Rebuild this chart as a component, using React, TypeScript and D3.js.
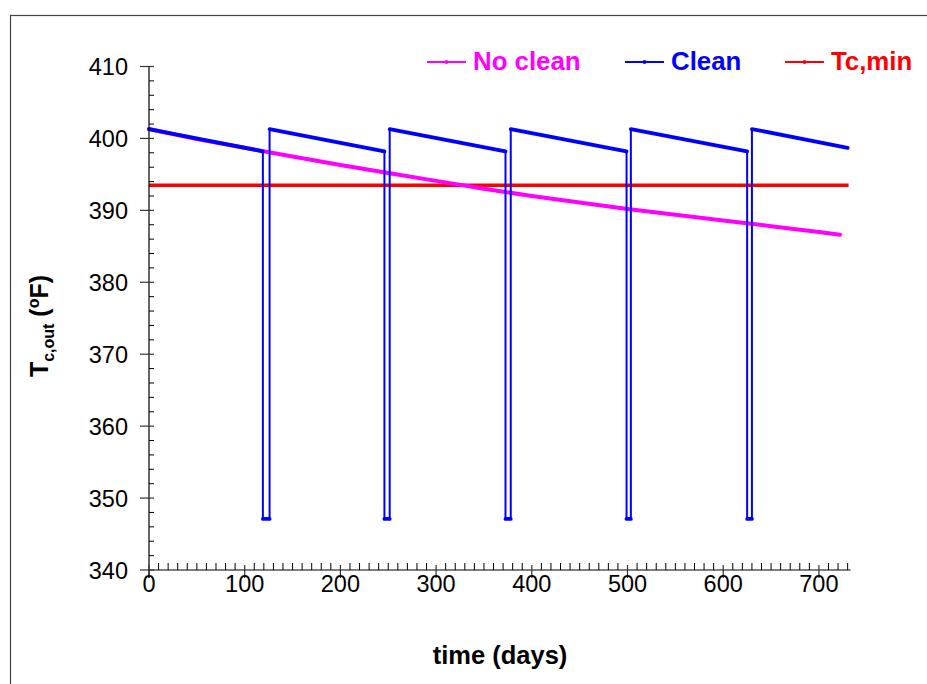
import React from "react";
import * as d3 from "d3";

const noCleanDays = [0, 50, 100, 150, 200, 250, 300, 350, 400, 450, 500, 550, 600, 650, 700, 722];
const noCleanTemps = [401.3, 399.9, 398.7, 397.5, 396.3, 395.2, 394.1, 393.0, 392.0, 391.1, 390.2, 389.4, 388.6, 387.8, 387.0, 386.6];

const cleanDays = [0, 119, 119, 126, 126, 246, 246, 251.5, 251.5, 372.5, 372.5, 378, 378, 499, 499, 503.5, 503.5, 625, 625, 630, 630, 730];
const cleanTemps = [401.3, 398.2, 347.1, 347.1, 401.3, 398.2, 347.1, 347.1, 401.3, 398.2, 347.1, 347.1, 401.3, 398.2, 347.1, 347.1, 401.3, 398.2, 347.1, 347.1, 401.3, 398.7];

const tcMinDays = [0, 731];
const tcMinTemps = [393.5, 393.5];

const xTicks = [0, 100, 200, 300, 400, 500, 600, 700];
const yTicks = [340, 350, 360, 370, 380, 390, 400, 410];

const legendLabels = ["No clean", "Clean", "Tc,min"];
const legendColors = ["#FF00FF", "#0000FF", "#FF0000"];

const FONT = "'Liberation Sans', Arial, sans-serif";

export default function App() {
  const x = d3.scaleLinear().domain([0, 733]).range([149, 850.5]);
  const y = d3.scaleLinear().domain([340, 410]).range([570, 66.5]);

  const line = d3.line<[number, number]>().x((d) => x(d[0])).y((d) => y(d[1]));
  const noClean = noCleanDays.map((d, i) => [d, noCleanTemps[i]] as [number, number]);
  const clean = cleanDays.map((d, i) => [d, cleanTemps[i]] as [number, number]);
  const tcMin = tcMinDays.map((d, i) => [d, tcMinTemps[i]] as [number, number]);

  const cleanSegs = clean.slice(1).map((p, i) => [clean[i], p] as [number, number][]);

  const xMinor = d3.range(0, 731, 10).filter((v) => v % 100 !== 0);
  const yMinor = d3.range(340, 410.01, 2).filter((v) => Math.round(v) % 10 !== 0);

  const legendX = [427, 625, 785];

  return (
    <svg width={927} height={684} style={{ position: "absolute", left: 0, top: 0, background: "#fff" }} fontFamily={FONT}>
      <rect x={10.5} y={15.5} width={930} height={700} fill="none" stroke="#444" strokeWidth={1.2} />

      {/* series */}
      <path d={line(tcMin) || ""} fill="none" stroke="#FF0000" strokeWidth={3.5} />
      <path d={line(noClean) || ""} fill="none" stroke="#FF00FF" strokeWidth={4} strokeLinecap="round" strokeLinejoin="round" />
      {cleanSegs.map((s, i) => {
        const vertical = s[0][0] === s[1][0];
        return (
          <path
            key={i}
            d={line(s) || ""}
            fill="none"
            stroke="#0000FF"
            strokeWidth={vertical ? 2 : 3.8}
            strokeLinecap={vertical ? "butt" : "round"}
          />
        );
      })}

      {/* axes */}
      <line x1={x(0)} x2={x(733)} y1={y(340)} y2={y(340)} stroke="#000" strokeWidth={1.2} />
      <line x1={x(0)} x2={x(0)} y1={y(410)} y2={y(340) + 8} stroke="#000" strokeWidth={1.2} />
      {xMinor.map((v) => (
        <line key={"xm" + v} x1={x(v)} x2={x(v)} y1={y(340)} y2={y(340) - 7} stroke="#000" strokeWidth={1} />
      ))}
      {xTicks.map((v) => (
        <g key={"xt" + v}>
          <line x1={x(v)} x2={x(v)} y1={y(340) - 5} y2={y(340) + 8} stroke="#333" strokeWidth={1.2} />
          <text x={x(v)} y={592} textAnchor="middle" fontSize={23.5} fill="#000">
            {v}
          </text>
        </g>
      ))}
      {yMinor.map((v) => (
        <line key={"ym" + v} x1={x(0)} x2={x(0) + 5} y1={y(v)} y2={y(v)} stroke="#000" strokeWidth={1} />
      ))}
      {yTicks.map((v) => (
        <g key={"yt" + v}>
          <line x1={x(0) - 9} x2={x(0) + 5} y1={y(v)} y2={y(v)} stroke="#333" strokeWidth={1.2} />
          <text x={128} y={y(v) + 8.5} textAnchor="end" fontSize={23.5} fill="#000">
            {v}
          </text>
        </g>
      ))}

      {/* axis titles */}
      <text x={500} y={664} textAnchor="middle" fontSize={25.5} fontWeight="bold" fill="#000">
        time (days)
      </text>
      <text transform="translate(48,326) rotate(-90)" textAnchor="middle" fontSize={25} fontWeight="bold" fill="#000">
        T<tspan fontSize={16} dy={6}>c,out</tspan>
        <tspan dy={-6}> (</tspan>
        <tspan fontSize={16} dy={-9}>o</tspan>
        <tspan dy={9}>F)</tspan>
      </text>

      {/* legend */}
      {legendLabels.map((lab, i) => (
        <g key={lab}>
          <line x1={legendX[i]} x2={legendX[i] + 39} y1={62} y2={62} stroke={legendColors[i]} strokeWidth={2} />
          <circle cx={legendX[i] + 19.5} cy={62} r={2} fill={legendColors[i]} />
          <text x={legendX[i] + 46} y={70} fontSize={25.8} fontWeight="bold" fill={legendColors[i]}>
            {lab}
          </text>
        </g>
      ))}
    </svg>
  );
}
